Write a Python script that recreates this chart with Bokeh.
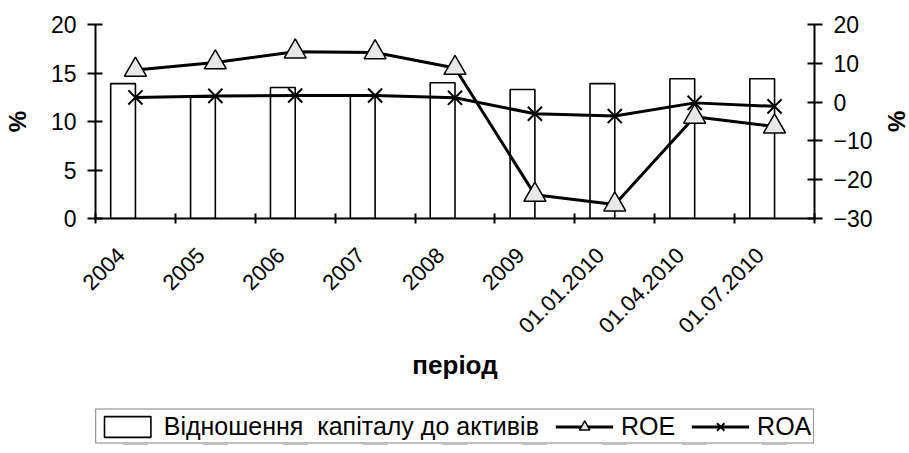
import math
from bokeh.plotting import figure
from bokeh.layouts import column
from bokeh.models import (Range1d, LinearAxis, FixedTicker, ColumnDataSource,
                          Legend, LegendItem)
from bokeh.transform import dodge
from bokeh.embed import file_html
from bokeh.resources import INLINE

# ---- data ----
categories = ["2004", "2005", "2006", "2007", "2008", "2009",
              "01.01.2010", "01.04.2010", "01.07.2010"]
capital_ratio = [13.9, 12.5, 13.5, 12.6, 14.0, 13.3, 13.9, 14.4, 14.4]
roe = [8.3, 10.2, 13.0, 12.8, 8.8, -23.9, -26.4, -3.8, -6.3]
roa = [1.2, 1.6, 1.7, 1.7, 1.1, -3.0, -3.6, -0.2, -1.1]
left_ticks = [0, 5, 10, 15, 20]
right_ticks = [-30, -20, -10, 0, 10, 20]
bar_label = "Відношення  капіталу до активів"
roe_label = "ROE"
roa_label = "ROA"
x_title = "період"
y_title = "%"

FONT = "Liberation Sans"

idx = list(range(len(categories)))
source = ColumnDataSource(dict(
    x=[i + 0.5 for i in idx], cat=categories, cap=capital_ratio, roe=roe, roa=roa))

p = figure(frame_width=719, frame_height=194,
           x_range=Range1d(0, len(categories)), y_range=Range1d(0, 20),
           output_backend="svg", toolbar_location=None,
           min_border_left=89, min_border_right=85,
           min_border_top=24, min_border_bottom=189)
p.title.visible = False
p.extra_y_ranges = {"r": Range1d(-30, 20)}
p.outline_line_color = None
p.xgrid.visible = False
p.ygrid.visible = False
p.background_fill_color = "white"
p.border_fill_color = "white"

bar_style = dict(fill_color="white", line_color="black", line_width=1.6)
line_style = dict(line_color="black", line_width=3)
tri_style = dict(marker="triangle", fill_color="#e8e8e8", line_color="black", line_width=1.5)
x_style = dict(marker="x", line_color="black", line_width=2)

bars = p.vbar(x=dodge("x", -0.155), top="cap", bottom=0, width=0.31, source=source, **bar_style)
roa_line = p.line("x", "roa", source=source, y_range_name="r", **line_style)
roa_pts = p.scatter("x", "roa", source=source, y_range_name="r", size=20, **x_style)
roe_line = p.line("x", "roe", source=source, y_range_name="r", **line_style)
roe_pts = p.scatter("x", "roe", source=source, y_range_name="r", size=22, **tri_style)

# x axis
xa = p.xaxis[0]
xa.ticker = FixedTicker(ticks=[i + 0.32 for i in idx],
                        minor_ticks=list(range(len(categories) + 1)))
xa.major_label_overrides = {i + 0.32: c for i, c in zip(idx, categories)}
xa.major_label_orientation = math.pi / 4
xa.major_tick_in = 0
xa.major_tick_out = 0
xa.minor_tick_in = 5
xa.minor_tick_out = 5
xa.minor_tick_line_width = 2
xa.minor_tick_line_color = "black"
xa.axis_line_width = 2
xa.axis_line_color = "black"
xa.major_label_standoff = 28
xa.major_label_text_font = FONT
xa.major_label_text_font_size = "22px"
xa.major_label_text_color = "black"
xa.axis_label = x_title
xa.axis_label_text_font = FONT
xa.axis_label_text_font_style = "bold"
xa.axis_label_text_font_size = "26px"
xa.axis_label_text_color = "black"
xa.axis_label_standoff = 7

def style_y(ax, lab_standoff):
    ax.major_tick_in = 7
    ax.major_tick_out = 8
    ax.major_tick_line_width = 2
    ax.major_tick_line_color = "black"
    ax.minor_tick_in = 0
    ax.minor_tick_out = 0
    ax.axis_line_width = 2
    ax.axis_line_color = "black"
    ax.major_label_standoff = 11
    ax.major_label_text_font = FONT
    ax.major_label_text_font_size = "23px"
    ax.major_label_text_color = "black"
    ax.axis_label = y_title
    ax.axis_label_text_font = FONT
    ax.axis_label_text_font_style = "bold"
    ax.axis_label_text_font_size = "24px"
    ax.axis_label_text_color = "black"
    ax.axis_label_standoff = lab_standoff

ya = p.yaxis[0]
ya.ticker = FixedTicker(ticks=left_ticks)
style_y(ya, 17)

ra = LinearAxis(y_range_name="r", ticker=FixedTicker(ticks=right_ticks))
style_y(ra, 7)
p.add_layout(ra, "right")

# ---- legend strip under the chart (same frame geometry as the chart) ----
q = figure(frame_width=719, frame_height=38,
           x_range=Range1d(0, len(categories)), y_range=Range1d(100, 101),
           output_backend="svg", toolbar_location=None,
           x_axis_location=None, y_axis_location=None,
           min_border_left=89, min_border_right=85, min_border_top=0, min_border_bottom=0)
q.title.visible = False
q.outline_line_color = None
q.xgrid.visible = False
q.ygrid.visible = False
q.background_fill_color = "white"
q.border_fill_color = "white"
# same series, drawn outside this strip's visible range: only their legend swatches show
lg_bar = q.vbar(x="x", top="cap", bottom=0, width=0.31, source=source, **bar_style)
lg_roe_l = q.line("x", "roe", source=source, **line_style)
lg_roe_m = q.scatter("x", "roe", source=source, **tri_style)
lg_roa_l = q.line("x", "roa", source=source, **line_style)
lg_roa_m = q.scatter("x", "roa", source=source, **x_style)

legend = Legend(items=[
    LegendItem(label=bar_label, renderers=[lg_bar]),
    LegendItem(label=roe_label, renderers=[lg_roe_l, lg_roe_m]),
    LegendItem(label=roa_label, renderers=[lg_roa_l, lg_roa_m]),
], orientation="horizontal", location="center",
    border_line_color="black", border_line_width=1.5,
    background_fill_color="white", background_fill_alpha=1,
    padding=2, spacing=16, glyph_width=58, glyph_height=26, label_standoff=8,
    label_text_font=FONT, label_text_font_size="25px", label_text_color="black",
    margin=0)
q.add_layout(legend)

layout = column(p, q, spacing=0)
open("out.html", "w").write(file_html(layout, INLINE))
